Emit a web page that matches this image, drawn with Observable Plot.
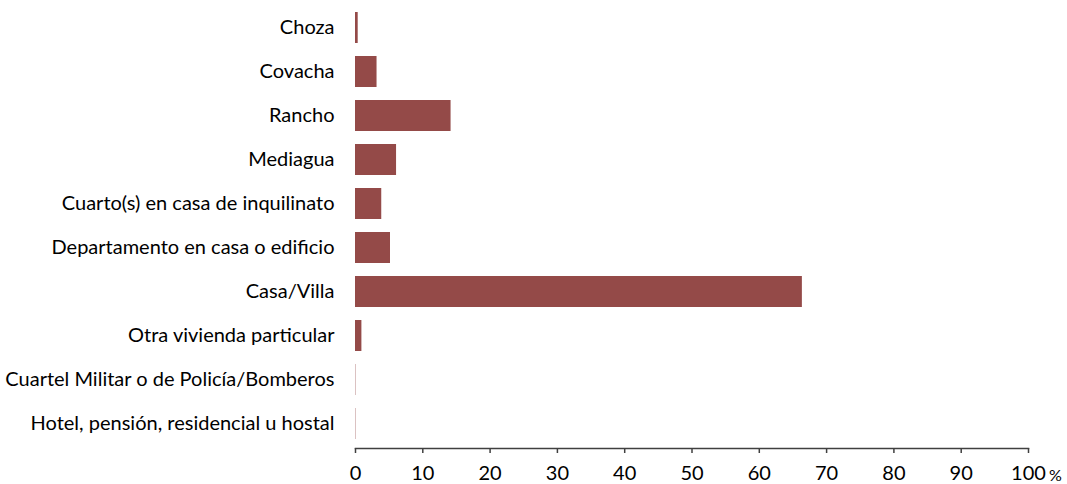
<!DOCTYPE html>
<html>
<head>
<meta charset="utf-8">
<script src="https://cdn.jsdelivr.net/npm/d3@7"></script>
<script src="https://cdn.jsdelivr.net/npm/@observablehq/plot@0.6"></script>
<style>
  html, body { margin: 0; padding: 0; background: #fff; }
  #chart { position: relative; width: 1067px; height: 484px; }
</style>
</head>
<body>
<div id="chart"></div>
<script>
const categories = [
  "Choza",
  "Covacha",
  "Rancho",
  "Mediagua",
  "Cuarto(s) en casa de inquilinato",
  "Departamento en casa o edificio",
  "Casa/Villa",
  "Otra vivienda particular",
  "Cuartel Militar o de Policía/Bomberos",
  "Hotel, pensión, residencial u hostal"
];
const values = [0.4, 3.2, 14.2, 6.1, 3.9, 5.2, 66.4, 0.95, 0.05, 0.05];
const xTicks = [0, 10, 20, 30, 40, 50, 60, 70, 80, 90, 100];
const unitLabel = "%";

const data = categories.map((c, i) => ({category: c, value: values[i]}));

const chart = Plot.plot({
  width: 1067,
  height: 484,
  marginLeft: 355,
  marginRight: 39,
  marginTop: 3,
  marginBottom: 36,
  style: {fontFamily: "Lato, sans-serif", fontSize: "20px", color: "#000", background: "#fff"},
  x: {domain: [0, 100], ticks: xTicks},
  y: {domain: categories, paddingInner: 0.29, paddingOuter: 0.135},
  marks: [
    Plot.barX(data, {x: "value", y: "category", fill: "#944a48"}),
    Plot.frame({anchor: "bottom", stroke: "#404040", strokeWidth: 1.5}),
    Plot.axisX({ticks: xTicks, tickSize: 5, tickPadding: 12, stroke: "#404040", strokeWidth: 1.5, label: null, fontSize: 20, fill: "#000"}),
    Plot.axisY({tickSize: 0, tickPadding: 21, label: null, fontSize: 20, fill: "#000"}),
    Plot.text([unitLabel], {x: [100], frameAnchor: "bottom", dy: 32, dx: 27, text: d => d, fontSize: 16, fill: "#000"})
  ]
});
document.getElementById("chart").appendChild(chart);
</script>
</body>
</html>
